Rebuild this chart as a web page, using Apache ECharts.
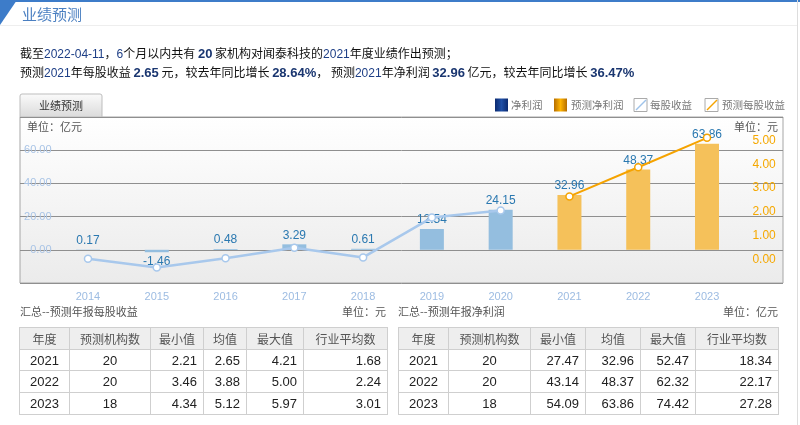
<!DOCTYPE html>
<html><head><meta charset="utf-8">
<script src="https://cdn.jsdelivr.net/npm/echarts@6/dist/echarts.min.js"></script>
<style>
html,body{margin:0;padding:0;width:800px;height:425px;overflow:hidden;background:#fff;font-family:"Noto Sans CJK SC","Liberation Sans",sans-serif;}
#chart{position:absolute;left:0;top:0;width:800px;height:425px;}
.abs{position:absolute;}
#topbar{left:0;top:0;width:800px;height:2px;background:#3d7cc9;}
#corner{left:0;top:0;width:0;height:0;border-top:25px solid #3d7cc9;border-right:17px solid transparent;}
#title{left:22px;top:4px;font-size:15px;color:#4a7fc1;line-height:20px;}
#hline{left:0;top:25px;width:797px;height:1px;background:#eee;}
#rline{left:797px;top:0;width:1px;height:425px;background:#ddd;}
.txt{left:20px;font-size:12px;color:#111;line-height:16px;white-space:nowrap;}
.num{font-family:"Liberation Sans",sans-serif;color:#1e3f86;}
.bn{font-family:"Liberation Sans",sans-serif;font-weight:bold;color:#1a3670;font-size:13px;}
table{position:absolute;border-collapse:collapse;table-layout:fixed;}
td,th{border:1px solid #cfcfcf;height:20.7px;padding:0 6px;font-size:13px;font-family:"Liberation Sans",sans-serif;color:#222;}
th{background:#eeeeee;font-weight:normal;font-size:12px;color:#555;font-family:"Noto Sans CJK SC",sans-serif;text-align:center;padding:0;}
td{text-align:right;}
td.c{text-align:center;padding:0;}
.cap{font-size:11px;color:#555;top:303px;line-height:16px;}
</style></head>
<body>
<div id="chart"></div>
<div class="abs" id="topbar"></div>
<div class="abs" id="corner"></div>
<div class="abs" id="title">业绩预测</div>
<div class="abs" id="hline"></div>
<div class="abs" id="rline"></div>
<div class="abs txt" style="top:45px">截至<span class="num">2022-04-11</span>，<span class="num">6</span>个月以内共有 <span class="bn">20</span> 家机构对闻泰科技的<span class="num">2021</span>年度业绩作出预测；</div>
<div class="abs txt" style="top:64px">预测<span class="num">2021</span>年每股收益 <span class="bn">2.65</span> 元，较去年同比增长 <span class="bn">28.64%</span>， 预测<span class="num">2021</span>年净利润 <span class="bn">32.96</span> 亿元，较去年同比增长 <span class="bn">36.47%</span></div>
<div class="abs cap" style="left:20px">汇总--预测年报每股收益</div>
<div class="abs cap" style="left:340px;width:46px;text-align:right">单位：元</div>
<div class="abs cap" style="left:398px">汇总--预测年报净利润</div>
<div class="abs cap" style="left:718px;width:60px;text-align:right">单位：亿元</div>
<table id="t1" style="left:19px;top:327px;width:368px"></table>
<table id="t2" style="left:398px;top:327px;width:380px"></table>
<script>
// ---- data ----
var years = ['2014','2015','2016','2017','2018','2019','2020','2021','2022','2023'];
var netProfit = [0.17, -1.46, 0.48, 3.29, 0.61, 12.54, 24.15, null, null, null];
var netProfitForecast = [null, null, null, null, null, null, null, 32.96, 48.37, 63.86];
var eps = [0.02, -0.35, 0.04, 0.49, 0.08, 1.76, 2.06, null, null, null];
var epsForecast = [null, null, null, null, null, null, null, 2.65, 3.88, 5.12];
var leftTicks = [0, 20, 40, 60];
var rightTicks = [0, 1, 2, 3, 4, 5];
var tableHeader = ['年度','预测机构数','最小值','均值','最大值','行业平均数'];
var epsTableYears = ['2021','2022','2023'];
var epsTableCount = [20, 20, 18];
var epsTableMin = ['2.21','3.46','4.34'];
var epsTableMean = ['2.65','3.88','5.12'];
var epsTableMax = ['4.21','5.00','5.97'];
var epsTableInd = ['1.68','2.24','3.01'];
var npTableYears = ['2021','2022','2023'];
var npTableCount = [20, 20, 18];
var npTableMin = ['27.47','43.14','54.09'];
var npTableMean = ['32.96','48.37','63.86'];
var npTableMax = ['52.47','62.32','74.42'];
var npTableInd = ['18.34','22.17','27.28'];

function buildTable(id, widths, ys, cnt, mn, me, mx, ind){
  var t = document.getElementById(id);
  var h = '<colgroup>' + widths.map(function(w){return '<col style="width:'+w+'px">';}).join('') + '</colgroup>';
  h += '<tr>' + tableHeader.map(function(s){return '<th>'+s+'</th>';}).join('') + '</tr>';
  for (var i=0;i<ys.length;i++){
    h += '<tr><td class="c">'+ys[i]+'</td><td class="c">'+cnt[i]+'</td><td>'+mn[i]+'</td><td>'+me[i]+'</td><td>'+mx[i]+'</td><td>'+ind[i]+'</td></tr>';
  }
  t.innerHTML = h;
}
buildTable('t1',[50,81,53,43,57,84],epsTableYears,epsTableCount,epsTableMin,epsTableMean,epsTableMax,epsTableInd);
buildTable('t2',[50,82,55,55,55,83],npTableYears,npTableCount,npTableMin,npTableMean,npTableMax,npTableInd);

var chart = echarts.init(document.getElementById('chart'));
var labelStyle = {show:true, position:'top', distance:3, color:'#2a78b0', fontSize:12, fontFamily:'Liberation Sans',
  formatter:function(p){return p.value==null?'':Number(p.value).toFixed(2);}};
function barData(arr){
  return arr.map(function(v){ return v!=null && v<0 ? {value:v, label:{position:'bottom'}} : v; });
}
function legendLineIcon(x, color){
  return [{type:'rect', shape:{x:x,y:98.5,width:13,height:13}, style:{fill:'#fff',stroke:'#aaa',lineWidth:1}},
          {type:'line', shape:{x1:x+2,y1:110,x2:x+12,y2:100}, style:{stroke:color,lineWidth:1.5}}];
}
var lgText = {fontSize:10.5, fill:'#777', fontFamily:'Noto Sans CJK SC'};
var graphics = [
  {type:'rect', shape:{x:20,y:94,width:82,height:23,r:[2,2,0,0]}, style:{fill:new echarts.graphic.LinearGradient(0,0,0,1,[{offset:0,color:'#fbfbfb'},{offset:1,color:'#dadada'}]),stroke:'#bdbdbd',lineWidth:1}},
  {type:'text', x:61, y:105.5, style:{text:'业绩预测', fontSize:11, fill:'#333', align:'center', verticalAlign:'middle', fontFamily:'Noto Sans CJK SC'}},
  {type:'rect', shape:{x:495,y:98.5,width:13,height:13}, style:{fill:new echarts.graphic.LinearGradient(0,0,1,0,[{offset:0,color:'#0b2a70'},{offset:0.5,color:'#1f4fa6'},{offset:1,color:'#0b2a70'}])}},
  {type:'text', x:511, y:105, style:Object.assign({text:'净利润', verticalAlign:'middle'}, lgText)},
  {type:'rect', shape:{x:554,y:98.5,width:13,height:13}, style:{fill:new echarts.graphic.LinearGradient(0,0,1,0,[{offset:0,color:'#b56d00'},{offset:0.5,color:'#ffb400'},{offset:1,color:'#b56d00'}])}},
  {type:'text', x:571, y:105, style:Object.assign({text:'预测净利润', verticalAlign:'middle'}, lgText)},
  {type:'text', x:650, y:105, style:Object.assign({text:'每股收益', verticalAlign:'middle'}, lgText)},
  {type:'text', x:722, y:105, style:Object.assign({text:'预测每股收益', verticalAlign:'middle'}, lgText)},
  {type:'text', x:27, y:127, style:{text:'单位：亿元', fontSize:11, fill:'#555', verticalAlign:'middle', fontFamily:'Noto Sans CJK SC'}},
  {type:'text', x:778, y:127, style:{text:'单位：元', fontSize:11, fill:'#555', align:'right', verticalAlign:'middle', fontFamily:'Noto Sans CJK SC'}}
].concat(legendLineIcon(634,'#9fc3ea')).concat(legendLineIcon(705,'#f5a300'));

var option = {
  animation:false,
  textStyle:{fontFamily:'Noto Sans CJK SC'},
  grid:[
    {left:20, right:17, top:117, bottom:142, show:true, borderColor:'#a6a6a6', borderWidth:1,
     backgroundColor:new echarts.graphic.LinearGradient(0,0,0,1,[{offset:0,color:'#ffffff'},{offset:1,color:'#ebebeb'}])},
    {left:53.6, right:58.6, top:117, bottom:142}
  ],
  xAxis:[
    {type:'value', gridIndex:0, show:false, min:0, max:1},
    {type:'category', gridIndex:1, data:years, axisLine:{show:false}, axisTick:{show:false},
     axisLabel:{color:'#9dbce2', fontSize:11, margin:8, fontFamily:'Liberation Sans'}}
  ],
  yAxis:[
    {type:'value', gridIndex:0, min:-20, max:80, interval:20, axisLabel:{show:false}, axisLine:{show:false}, axisTick:{show:false},
     splitLine:{show:true, lineStyle:{color:'#8f8f8f', width:1}}},
    {type:'value', gridIndex:1, min:-20, max:80, interval:20, splitLine:{show:false}, axisLine:{show:false}, axisTick:{show:false},
     axisLabel:{color:'#a9c4e6', fontSize:11, margin:2, fontFamily:'Liberation Sans',
       formatter:function(v){return leftTicks.indexOf(v)>=0 ? v.toFixed(2) : '';}}},
    {type:'value', gridIndex:1, position:'right', min:-1, max:6, interval:1, splitLine:{show:false}, axisLine:{show:false}, axisTick:{show:false},
     axisLabel:{color:'#f5a800', fontSize:12, margin:11, fontFamily:'Liberation Sans',
       formatter:function(v){return rightTicks.indexOf(v)>=0 ? v.toFixed(2) : '';}}}
  ],
  series:[
    {name:'净利润', type:'bar', xAxisIndex:1, yAxisIndex:1, barWidth:24, barGap:'-100%', data:barData(netProfit),
     itemStyle:{color:'#94bedf'}, label:labelStyle, z:2},
    {name:'预测净利润', type:'bar', xAxisIndex:1, yAxisIndex:1, barWidth:24, barGap:'-100%', data:barData(netProfitForecast),
     itemStyle:{color:'#f5c15a'}, label:labelStyle, z:2},
    {name:'每股收益', type:'line', xAxisIndex:1, yAxisIndex:2, data:eps, symbol:'circle', symbolSize:7,
     lineStyle:{color:'#a8c8ec', width:2.5}, itemStyle:{color:'#fff', borderColor:'#a8c8ec', borderWidth:1.5}, z:3},
    {name:'预测每股收益', type:'line', xAxisIndex:1, yAxisIndex:2, data:epsForecast, symbol:'circle', symbolSize:7,
     lineStyle:{color:'#f5a300', width:2}, itemStyle:{color:'#fff', borderColor:'#f5a300', borderWidth:1.5}, z:3}
  ],
  graphic:graphics
};
chart.setOption(option);
</script>
</body></html>
